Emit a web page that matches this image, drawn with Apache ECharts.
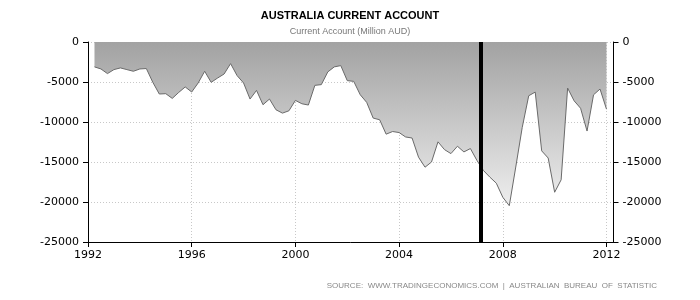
<!DOCTYPE html>
<html><head><meta charset="utf-8">
<script src="https://cdn.jsdelivr.net/npm/echarts@6/dist/echarts.min.js"></script>
<style>html,body{margin:0;padding:0;background:#fff}#c{width:700px;height:300px}</style>
</head><body><div id="c"></div>
<script>
// Quarterly periods (decimal years)
const periods = [
 1992.25,1992.50,1992.75,1993.00,1993.25,1993.50,1993.75,1994.00,1994.25,1994.50,
 1994.75,1995.00,1995.25,1995.50,1995.75,1996.00,1996.25,1996.50,1996.75,1997.00,
 1997.25,1997.50,1997.75,1998.00,1998.25,1998.50,1998.75,1999.00,1999.25,1999.50,
 1999.75,2000.00,2000.25,2000.50,2000.75,2001.00,2001.25,2001.50,2001.75,2002.00,
 2002.25,2002.50,2002.75,2003.00,2003.25,2003.50,2003.75,2004.00,2004.25,2004.50,
 2004.75,2005.00,2005.25,2005.50,2005.75,2006.00,2006.25,2006.50,2006.75,2007.00,
 2007.25,2007.50,2007.75,2008.00,2008.25,2008.50,2008.75,2009.00,2009.25,2009.50,
 2009.75,2010.00,2010.25,2010.50,2010.75,2011.00,2011.25,2011.50,2011.75,2012.00
];
// Current account, million AUD
const currentAccount = [
 -3110,-3370,-3950,-3450,-3240,-3450,-3660,-3370,-3320,-5040,
 -6500,-6460,-7050,-6300,-5620,-6250,-5120,-3660,-5040,-4500,
 -4000,-2700,-4200,-5120,-7130,-6050,-7840,-7130,-8470,-8890,
 -8600,-7300,-7720,-7880,-5420,-5330,-3740,-3110,-2950,-4830,
 -4920,-6590,-7550,-9510,-9720,-11520,-11190,-11320,-11870,-12000,
 -14400,-15650,-15000,-12480,-13450,-13950,-13030,-13740,-13320,-14790,
 -16050,-16890,-17650,-19410,-20460,-15630,-10670,-6720,-6260,-13610,
 -14500,-18780,-17230,-5760,-7350,-8280,-11130,-6600,-5880,-8400
];
const yTicks = [0,-5000,-10000,-15000,-20000,-25000];
const xTicks = [1992,1996,2000,2004,2008,2012];
const markerYear = 2007.16;
const titleText = 'AUSTRALIA CURRENT ACCOUNT';
const subtitleText = 'Current Account (Million AUD)';
const sourceText = 'SOURCE:  WWW.TRADINGECONOMICS.COM  |  AUSTRALIAN  BUREAU  OF  STATISTIC';

const chart = echarts.init(document.getElementById('c'), null, {renderer:'canvas'});
const labelStyle = {color:'#000', fontFamily:'DejaVu Sans', fontSize:11};
const yFmt = v => yTicks.indexOf(v) >= 0 ? String(v) : '';
const yAxisCommon = {
  type:'value', min:-25000, max:0, interval:5000,
  axisLine:{show:true, lineStyle:{color:'#000', width:1}},
  axisTick:{show:true, length:5, lineStyle:{color:'#000'}},
};
chart.setOption({
  animation:false,
  backgroundColor:'#fff',
  title:[
    {text:titleText, left:'center', top:10, padding:0,
     textStyle:{fontFamily:'Liberation Sans', fontSize:11, fontWeight:'bold', color:'#000'}},
    {text:subtitleText, left:'center', top:27, padding:0,
     textStyle:{fontFamily:'Liberation Sans', fontSize:9, fontWeight:'normal', color:'#777'}},
    {text:sourceText, right:43, top:282, padding:0,
     textStyle:{fontFamily:'Liberation Sans', fontSize:8, fontWeight:'normal', color:'#888'}}
  ],
  grid:{left:88, right:86.5, top:42, bottom:58, containLabel:false},
  xAxis:{
    type:'value', min:1992, max:2012.27, interval:4,
    axisLine:{show:true, onZero:false, lineStyle:{color:'#000'}},
    axisTick:{show:true, length:5, lineStyle:{color:'#000'}},
    axisLabel:Object.assign({margin:8, showMaxLabel:false,
      formatter:v => xTicks.indexOf(Math.round(v*100)/100) >= 0 ? String(v) : ''}, labelStyle),
    splitLine:{show:true, lineStyle:{color:'#c8c8c8', type:[1,2], width:1}}
  },
  yAxis:[
    Object.assign({}, yAxisCommon, {position:'left',
      axisLabel:Object.assign({margin:9, formatter:yFmt}, labelStyle),
      splitLine:{show:true, lineStyle:{color:'#c8c8c8', type:[1,2], width:1}}}),
    Object.assign({}, yAxisCommon, {position:'right',
      axisLabel:Object.assign({margin:9, formatter:yFmt}, labelStyle),
      splitLine:{show:false}})
  ],
  series:[{
    type:'line',
    data:periods.map((p,i)=>[p, currentAccount[i]]),
    showSymbol:false, symbol:'none',
    lineStyle:{color:'#6a6a6a', width:1},
    areaStyle:{opacity:1, color:new echarts.graphic.LinearGradient(0,0,0,1,[
      {offset:0,color:'#a2a2a2'},{offset:1,color:'#eeeeee'}])},
    markLine:{
      silent:true, symbol:['none','none'], label:{show:false},
      lineStyle:{color:'#000', width:4, type:'solid'},
      data:[{xAxis:markerYear}]
    },
    z:2
  }]
});
</script></body></html>
